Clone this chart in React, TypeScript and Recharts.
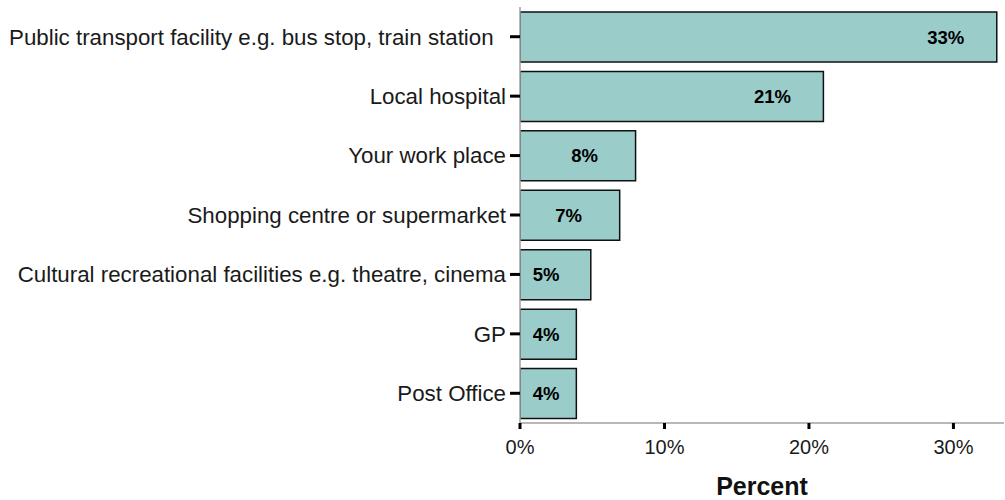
import { Bar, BarChart, LabelList, XAxis, YAxis, Label } from "recharts"

const categories = [
    "Public transport facility e.g. bus stop, train station\u00a0\u00a0",
    "Local hospital",
    "Your work place",
    "Shopping centre or supermarket",
    "Cultural recreational facilities e.g. theatre, cinema",
    "GP",
    "Post Office",
]

const percents = [33.0, 21.0, 8.0, 6.9, 4.9, 3.9, 3.9]

const xTicks = [0, 10, 20, 30]

const FONT = "'Liberation Sans', Arial, sans-serif"
const BAR_FILL = "#9accca"
const AXIS_GREY = "#a0a0a0"

const data = categories.map((name, i) => ({ name, value: percents[i] }))

const renderValueLabel = ({ x, y, width, height, value }: any) => {
    const cx = Math.max(x + width - 51, x + 26)
    return (
        <text
            x={cx}
            y={y + height / 2}
            textAnchor="middle"
            dominantBaseline="central"
            fontFamily={FONT}
            fontWeight="bold"
            fontSize={18.5}
            fill="#000"
        >
            {Math.round(value)}%
        </text>
    )
}

export default function App() {
    return (
        <div style={{ position: "absolute", left: 0, top: 0 }}>
            <BarChart
                width={1005}
                height={500}
                data={data}
                layout="vertical"
                margin={{ top: 7, right: 1, bottom: 0, left: 0 }}
            >
                <XAxis
                    type="number"
                    domain={[0, 33.5]}
                    ticks={xTicks}
                    allowDataOverflow
                    tickFormatter={(v: number) => `${v}%`}
                    height={77}
                    axisLine={{ stroke: AXIS_GREY, strokeWidth: 1.5 }}
                    tickLine={{ stroke: "#000", strokeWidth: 3 }}
                    tickSize={6}
                    tickMargin={11}
                    tick={{ fill: "#1a1a1a", fontSize: 20, fontFamily: FONT }}
                >
                    <Label
                        value="Percent"
                        position="insideBottom"
                        offset={5}
                        style={{ fontSize: 25, fontWeight: "bold", fontFamily: FONT, fill: "#111" }}
                    />
                </XAxis>
                <XAxis
                    xAxisId="top"
                    type="number"
                    orientation="top"
                    domain={[0, 33.5]}
                    height={0}
                    tick={false}
                    tickLine={false}
                    axisLine={{ stroke: AXIS_GREY, strokeWidth: 1.5 }}
                />
                <YAxis
                    type="category"
                    dataKey="name"
                    width={520}
                    interval={0}
                    axisLine={{ stroke: AXIS_GREY, strokeWidth: 1.5 }}
                    tickLine={{ stroke: "#000", strokeWidth: 3 }}
                    tickSize={10}
                    tickMargin={4}
                    tick={{ fill: "#1a1a1a", fontSize: 22.3, fontFamily: FONT }}
                />
                <Bar
                    dataKey="value"
                    fill={BAR_FILL}
                    stroke="#111"
                    strokeWidth={1.5}
                    barSize={50}
                    isAnimationActive={false}
                >
                    <LabelList dataKey="value" content={renderValueLabel} />
                </Bar>
            </BarChart>
        </div>
    )
}
